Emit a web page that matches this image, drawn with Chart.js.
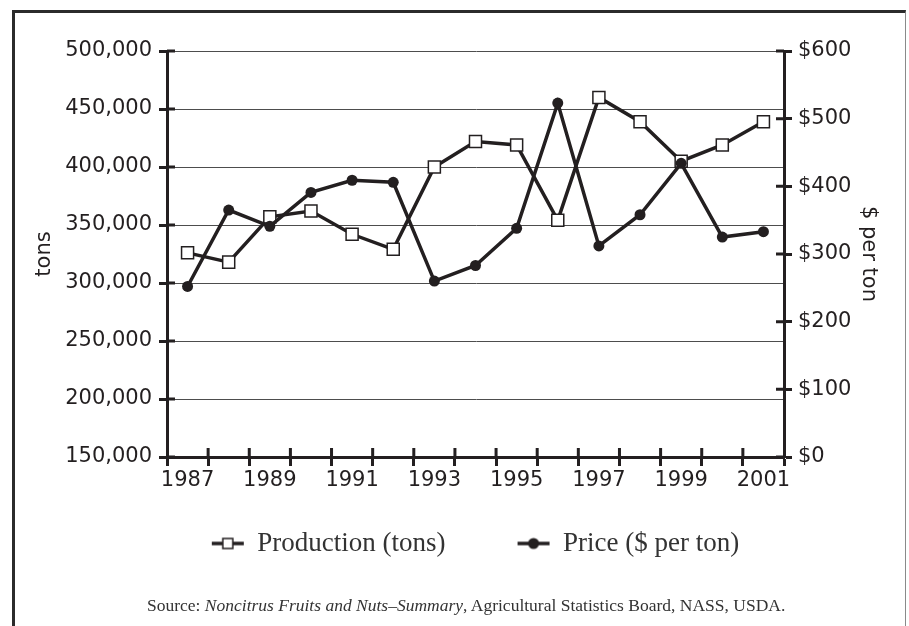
<!DOCTYPE html>
<html>
<head>
<meta charset="utf-8">
<script src="https://cdn.jsdelivr.net/npm/chart.js@4.4.1/dist/chart.umd.min.js"></script>
<style>
    html, body { margin: 0; padding: 0; background: #fff; }
    .page { position: relative; width: 909px; height: 626px; overflow: hidden; }
    .frame { position: absolute; left: 12px; top: 10px; width: 890px; height: 640px;
        border-top: 3px solid #2b2b2b; border-left: 3px solid #2b2b2b; border-right: 1.5px solid #8a8a8a; }
    .chart-box { position: absolute; left: 0; top: 0; width: 909px; height: 626px; }
    .source { position: absolute; left: 147px; top: 595px; white-space: nowrap;
        font-family: "Liberation Serif", serif; font-size: 17.5px; color: #333; }
</style>
</head>
<body>
<div class="page">
    <div class="frame"></div>
    <div class="chart-box"><canvas id="fruitChart"></canvas></div>
    <div class="source">Source: <i>Noncitrus Fruits and Nuts–Summary</i>, Agricultural Statistics Board, NASS, USDA.</div>
</div>
<script>
const years = ['1987', '1988', '1989', '1990', '1991', '1992', '1993', '1994',
    '1995', '1996', '1997', '1998', '1999', '2000', '2001'];
const production = [326000, 318000, 357000, 362000, 342000, 329000, 400000, 422000,
    419000, 354000, 460000, 439000, 405000, 419000, 439000];
const price = [252, 365, 341, 391, 409, 406, 260, 283, 338, 523, 312, 358, 434, 325, 333];
const tonTicks = [150000, 500000, 50000];
const priceTicks = [0, 600, 100];

const ink = '#231f20';
const tickFont = { family: 'DejaVu Sans', size: 21 };

// petites images pour la légende : un trait avec le marqueur au milieu
function legendMarker(kind) {
    const c = document.createElement('canvas');
    c.width = 34;
    c.height = 16;
    const g = c.getContext('2d');
    g.strokeStyle = ink;
    g.lineWidth = 3.5;
    g.beginPath();
    g.moveTo(1, 8);
    g.lineTo(33, 8);
    g.stroke();
    if (kind === 'square') {
        g.fillStyle = '#fff';
        g.lineWidth = 1.5;
        g.fillRect(12, 3, 10, 10);
        g.strokeRect(12, 3, 10, 10);
    } else {
        g.fillStyle = ink;
        g.beginPath();
        g.arc(17, 8, 5.5, 0, Math.PI * 2);
        g.fill();
    }
    return c;
}
const markers = [legendMarker('square'), legendMarker('circle')];

// traits de graduation qui traversent les axes (côté intérieur)
const innerTicks = {
    id: 'innerTicks',
    beforeDatasetsDraw(chart) {
        const ctx = chart.ctx;
        const x = chart.scales.x, y = chart.scales.y, y1 = chart.scales.y1;
        ctx.save();
        ctx.strokeStyle = ink;
        ctx.lineWidth = 3;
        ctx.beginPath();
        y.ticks.forEach((t, i) => {
            const py = y.getPixelForTick(i);
            ctx.moveTo(y.right, py);
            ctx.lineTo(y.right + 8, py);
        });
        y1.ticks.forEach((t, i) => {
            const py = y1.getPixelForTick(i);
            ctx.moveTo(y1.left, py);
            ctx.lineTo(y1.left - 8, py);
        });
        const half = (x.getPixelForValue(1) - x.getPixelForValue(0)) / 2;
        for (let i = 1; i < years.length; i++) {
            const px = x.getPixelForValue(i) - half;
            ctx.moveTo(px, x.top);
            ctx.lineTo(px, x.top - 9);
        }
        ctx.stroke();
        ctx.restore();
    }
};

// centre la légende sous la zone du graphique et la remonte un peu
const legendShift = {
    id: 'legendShift',
    afterLayout(chart) {
        const lg = chart.legend;
        const area = chart.chartArea;
        const dx = (area.left + area.right) / 2 - (lg.left + lg.right) / 2;
        const dy = area.bottom + 1 - lg.top;
        lg.left += dx;
        lg.right += dx;
        lg.top += dy;
        lg.bottom += dy;
    }
};

new Chart(document.getElementById('fruitChart'), {
    type: 'line',
    data: {
        labels: years,
        datasets: [{
            label: 'Production (tons)',
            data: production,
            yAxisID: 'y',
            borderColor: ink,
            borderWidth: 3.5,
            pointStyle: 'rect',
            pointRadius: 8.5,
            pointBackgroundColor: '#fff',
            pointBorderColor: ink,
            pointBorderWidth: 1.5,
            tension: 0,
            order: 2
        }, {
            label: 'Price ($ per ton)',
            data: price,
            yAxisID: 'y1',
            borderColor: ink,
            borderWidth: 3.5,
            pointStyle: 'circle',
            pointRadius: 5.5,
            pointBackgroundColor: ink,
            pointBorderColor: ink,
            pointBorderWidth: 0,
            tension: 0,
            order: 1
        }]
    },
    options: {
        responsive: true,
        maintainAspectRatio: false,
        animation: false,
        devicePixelRatio: 1,
        layout: { padding: { left: 28, right: 24, top: 51, bottom: 20 } },
        plugins: {
            tooltip: { enabled: false },
            legend: {
                position: 'bottom',
                maxHeight: 120,
                labels: {
                    usePointStyle: true,
                    pointStyleWidth: 32,
                    padding: 72,
                    color: '#333',
                    font: { family: 'Liberation Serif', size: 27 },
                    generateLabels: chart => chart.data.datasets.map((ds, i) => ({
                        text: ds.label,
                        pointStyle: markers[i],
                        fillStyle: ink,
                        strokeStyle: ink,
                        lineWidth: 0,
                        fontColor: '#333',
                        hidden: false,
                        datasetIndex: i
                    }))
                }
            }
        },
        scales: {
            x: {
                offset: true,
                afterFit: s => { s.height = 40; },
                border: { color: ink, width: 3 },
                grid: { offset: true, drawOnChartArea: false, tickLength: 9, tickWidth: 3, tickColor: ink },
                ticks: {
                    autoSkip: false,
                    maxRotation: 0,
                    padding: 2,
                    color: ink,
                    font: tickFont,
                    callback: (v, i) => (i % 2 === 0 ? years[i] : '')
                }
            },
            y: {
                position: 'left',
                min: tonTicks[0],
                max: tonTicks[1],
                afterFit: s => { s.width = 139; },
                border: { color: ink, width: 3 },
                grid: { color: '#4d4d4d', lineWidth: 1, tickLength: 8, tickWidth: 3, tickColor: ink },
                ticks: {
                    stepSize: tonTicks[2],
                    padding: 7,
                    color: ink,
                    font: tickFont,
                    callback: v => v.toLocaleString('en-US')
                },
                title: { display: true, text: 'tons', color: ink, font: tickFont, padding: { top: 4, bottom: 0 } }
            },
            y1: {
                position: 'right',
                min: priceTicks[0],
                max: priceTicks[1],
                afterFit: s => { s.width = 101; },
                border: { color: ink, width: 3 },
                grid: { drawOnChartArea: false, tickLength: 8, tickWidth: 3, tickColor: ink },
                ticks: {
                    stepSize: priceTicks[2],
                    padding: 6,
                    color: ink,
                    font: tickFont,
                    callback: v => '$' + v
                },
                title: { display: true, text: '$ per ton', color: ink, font: tickFont, padding: { top: 4, bottom: 0 } }
            }
        }
    },
    plugins: [innerTicks, legendShift]
});
</script>
</body>
</html>
